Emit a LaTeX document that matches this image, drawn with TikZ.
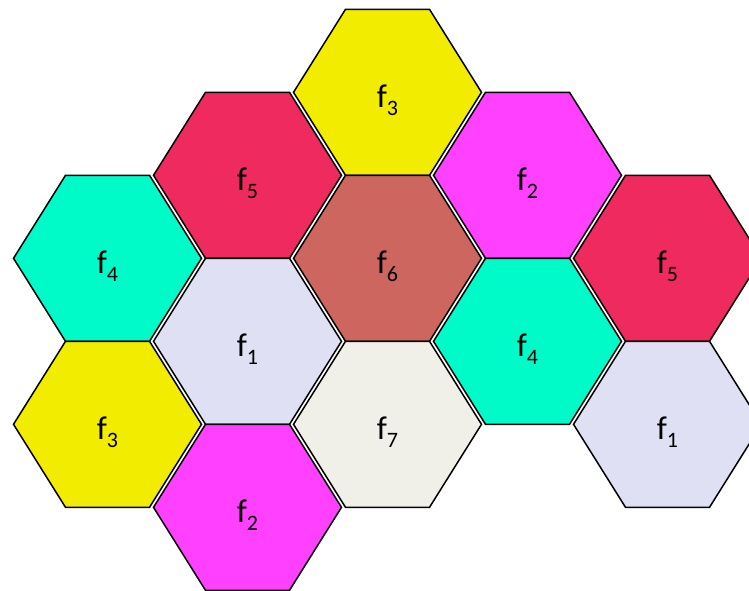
\documentclass[tikz,border=0pt]{standalone}
\usepackage{fontspec}
\setmainfont{Carlito}
\definecolor{cteal}{RGB}{0,250,200}
\definecolor{ccrim}{RGB}{239,42,94}
\definecolor{cmag}{RGB}{255,64,255}
\definecolor{cyel}{RGB}{242,236,0}
\definecolor{clav}{RGB}{224,224,245}
\definecolor{csix}{RGB}{204,102,94}
\definecolor{cseven}{RGB}{240,240,232}
\begin{document}
\begin{tikzpicture}[x=1pt,y=-1pt,
  hexline/.style={draw=black,line width=1.5pt,line join=miter},
  lab/.style={anchor=base,inner sep=0pt,font=\fontsize{33}{33}\selectfont}]
\useasboundingbox (0,0) rectangle (749,590);
\clip (0,0) rectangle (749,590);
\foreach \cx/\cy/\col/\n/\nm in {
  107.5/258.3/cteal/4/a,
  107.5/424.3/cyel/3/b,
  247.5/175.3/ccrim/5/c,
  247.5/341.3/clav/1/d,
  247.5/507.3/cmag/2/e,
  387.5/92.3/cyel/3/f,
  387.5/258.3/csix/6/g,
  387.5/424.3/cseven/7/h,
  527.5/175.3/cmag/2/i,
  527.5/341.3/cteal/4/j,
  667.5/258.3/ccrim/5/k,
  667.5/424.3/clav/1/l}{
  \filldraw[hexline,fill=\col] (\cx-94,\cy) -- (\cx-42,\cy-83) -- (\cx+42,\cy-83)
    -- (\cx+94,\cy) -- (\cx+42,\cy+83) -- (\cx-42,\cy+83) -- cycle;
  \node[lab] (\nm) at (\cx,\cy+15) {f\raisebox{-8.5pt}{\fontsize{22}{22}\selectfont\n}};
}
\end{tikzpicture}
\end{document}
